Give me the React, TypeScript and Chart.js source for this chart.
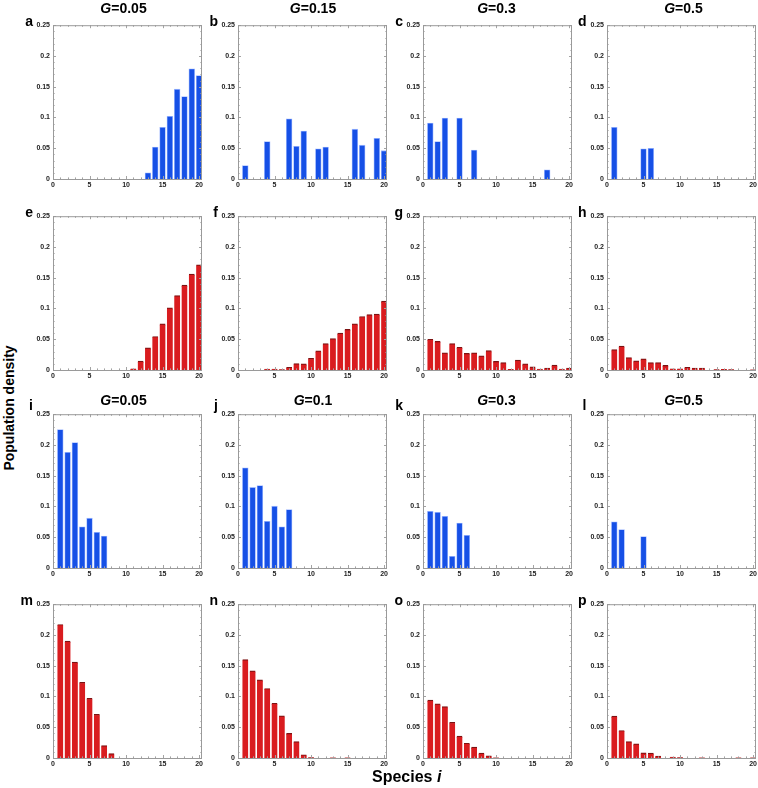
import React, { useEffect, useRef } from "react";
import { Chart, registerables } from "chart.js";

Chart.register(...registerables);

// ---------- data ----------
const speciesIndex = [1, 2, 3, 4, 5, 6, 7, 8, 9, 10, 11, 12, 13, 14, 15, 16, 17, 18, 19, 20];
const xTickLabels = [0, 5, 10, 15, 20];
const yTickValues = [0, 0.05, 0.1, 0.15, 0.2, 0.25];
const upperTitles = ["0.05", "0.15", "0.3", "0.5"];
const lowerTitles = ["0.05", "0.1", "0.3", "0.5"];
const panelLetters = ["a", "b", "c", "d", "e", "f", "g", "h", "i", "j", "k", "l", "m", "n", "o", "p"];

const densA = [0, 0, 0, 0, 0, 0, 0, 0, 0, 0, 0, 0, 0.010, 0.052, 0.084, 0.102, 0.146, 0.134, 0.179, 0.168];
const densB = [0.022, 0, 0, 0.061, 0, 0, 0.098, 0.053, 0.078, 0, 0.049, 0.052, 0, 0, 0, 0.081, 0.055, 0, 0.066, 0.046];
const densC = [0.091, 0.061, 0.099, 0, 0.099, 0, 0.047, 0, 0, 0, 0, 0, 0, 0, 0, 0, 0.015, 0, 0, 0];
const densD = [0.084, 0, 0, 0, 0.049, 0.050, 0, 0, 0, 0, 0, 0, 0, 0, 0, 0, 0, 0, 0, 0];
const densE = [0, 0, 0, 0, 0, 0, 0, 0, 0, 0, 0.002, 0.0144, 0.036, 0.0545, 0.075, 0.101, 0.121, 0.138, 0.156, 0.171];
const densF = [0, 0, 0, 0.0015, 0.0015, 0.0005, 0.0045, 0.0105, 0.010, 0.019, 0.031, 0.043, 0.051, 0.060, 0.066, 0.075, 0.087, 0.090, 0.091, 0.112];
const densG = [0.050, 0.0465, 0.028, 0.043, 0.037, 0.027, 0.028, 0.023, 0.0315, 0.014, 0.012, 0.001, 0.016, 0.010, 0.005, 0.0016, 0.003, 0.008, 0.0016, 0.003];
const densH = [0.033, 0.039, 0.020, 0.015, 0.018, 0.012, 0.012, 0.0075, 0.002, 0.002, 0.0045, 0.003, 0.003, 0, 0.0005, 0.001, 0.0005, 0, 0, 0.0003];
const densI = [0.225, 0.188, 0.204, 0.067, 0.081, 0.058, 0.052, 0, 0, 0, 0, 0, 0, 0, 0, 0, 0, 0, 0, 0];
const densJ = [0.163, 0.131, 0.134, 0.076, 0.1005, 0.067, 0.095, 0, 0, 0, 0, 0, 0, 0, 0, 0, 0, 0, 0, 0];
const densK = [0.092, 0.0905, 0.084, 0.019, 0.073, 0.053, 0, 0, 0, 0, 0, 0, 0, 0, 0, 0, 0, 0, 0, 0];
const densL = [0.075, 0.0625, 0, 0, 0.051, 0, 0, 0, 0, 0, 0, 0, 0, 0, 0, 0, 0, 0, 0, 0];
const densM = [0.217, 0.190, 0.156, 0.123, 0.097, 0.071, 0.020, 0.007, 0, 0, 0, 0, 0, 0, 0, 0, 0, 0, 0, 0];
const densN = [0.160, 0.1415, 0.127, 0.113, 0.089, 0.0686, 0.040, 0.0266, 0.0053, 0.0005, 0, 0, 0.0003, 0, 0.0003, 0, 0, 0, 0, 0];
const densO = [0.094, 0.088, 0.0835, 0.058, 0.0356, 0.024, 0.0176, 0.008, 0.0037, 0.0003, 0, 0, 0, 0, 0, 0, 0, 0, 0, 0];
const densP = [0.068, 0.0447, 0.0266, 0.023, 0.0085, 0.008, 0.003, 0, 0.0015, 0.0005, 0, 0, 0.0003, 0, 0, 0, 0, 0.0003, 0, 0.0003];

const panelSeries = [
  densA, densB, densC, densD,
  densE, densF, densG, densH,
  densI, densJ, densK, densL,
  densM, densN, densO, densP,
];

// ---------- styling / layout ----------
const FONT = '"Liberation Sans", Arial, Helvetica, sans-serif';
const BLUE = "#1650e6";
const BLUE_EDGE = "#9fb9ff";
const RED = "#d91c1f";
const RED_EDGE = "#7c1212";

const colLeft = [53, 238, 423, 607];
const rowTop = [23, 214, 412, 602];
const PLOT_W = 149;
const PLOT_H = 156;
const YW = 22;
const PT = 5;
const PR = 6;
const XH = 12;
const CW = YW + PLOT_W + PR;
const CH = PT + PLOT_H + XH;
const letterRight = [33, 218, 403, 586.5];
const titleCenter = [123.5, 313, 496.5, 683.5];

const framePlugin = {
  id: "frameTicks",
  afterDatasetsDraw(chart: any) {
    const { ctx, chartArea: a, scales } = chart;
    const x = scales.x;
    const y = scales.y;
    ctx.save();
    ctx.strokeStyle = "#a3a3a3";
    ctx.lineWidth = 1;
    ctx.beginPath();
    for (let v = 0; v <= 20; v += 1) {
      const px = Math.round(x.getPixelForValue(v)) + 0.5;
      const len = v % 5 === 0 ? 3 : 1.6;
      ctx.moveTo(px, a.bottom);
      ctx.lineTo(px, a.bottom - len);
      ctx.moveTo(px, a.top);
      ctx.lineTo(px, a.top + len);
    }
    for (let k = 0; k <= 25; k += 1) {
      const py = Math.round(y.getPixelForValue(k / 100)) + 0.5;
      const len = k % 5 === 0 ? 3 : 1.6;
      ctx.moveTo(a.left, py);
      ctx.lineTo(a.left + len, py);
      ctx.moveTo(a.right, py);
      ctx.lineTo(a.right - len, py);
    }
    ctx.stroke();
    ctx.strokeStyle = "#9a9a9a";
    ctx.strokeRect(a.left + 0.5, a.top + 0.5, a.right - a.left - 1, a.bottom - a.top);
    ctx.restore();
  },
};

function Panel({ idx }: { idx: number }) {
  const ref = useRef<HTMLCanvasElement>(null);
  const row = Math.floor(idx / 4);
  const col = idx % 4;
  useEffect(() => {
    const values = panelSeries[idx];
    const isRed = row % 2 === 1;
    const tickFont = { family: FONT, size: 7, weight: "bold" as const };
    const chart = new Chart(ref.current as HTMLCanvasElement, {
      type: "bar",
      data: {
        datasets: [
          {
            data: speciesIndex.map((s, k) => ({ x: s, y: values[k] > 0 ? values[k] : null })) as any,
            backgroundColor: isRed ? RED : BLUE,
            borderColor: isRed ? RED_EDGE : BLUE_EDGE,
            borderWidth: isRed
              ? { top: 1.2, left: 0, right: 0, bottom: 0 }
              : { top: 0.8, left: 0.8, right: 0.8, bottom: 0 },
            borderSkipped: "start",
            barThickness: 5.8,
          },
        ],
      },
      options: {
        animation: false,
        responsive: false,
        maintainAspectRatio: false,
        devicePixelRatio: 1,
        layout: { padding: { left: 0, top: PT, right: PR, bottom: 0 } },
        plugins: {
          legend: { display: false },
          tooltip: { enabled: false },
          title: { display: false },
        },
        scales: {
          x: {
            type: "linear",
            min: 0,
            max: 20.4,
            offset: false,
            grid: { display: false, drawTicks: false, offset: false },
            border: { display: false },
            ticks: {
              font: tickFont,
              color: "#222",
              padding: 2,
              maxRotation: 0,
              autoSkip: false,
              callback: (v: any) => String(v),
            },
            afterBuildTicks: (s: any) => {
              s.ticks = xTickLabels.map((v) => ({ value: v }));
            },
            afterFit: (s: any) => {
              s.height = XH;
            },
          },
          y: {
            type: "linear",
            min: 0,
            max: 0.25,
            grid: { display: false, drawTicks: false },
            border: { display: false },
            ticks: {
              font: tickFont,
              color: "#222",
              padding: 3,
              callback: (v: any) => String(+(+v).toFixed(2)),
            },
            afterBuildTicks: (s: any) => {
              s.ticks = yTickValues.map((v) => ({ value: v }));
            },
            afterFit: (s: any) => {
              s.width = YW;
            },
          },
        },
      } as any,
      plugins: [framePlugin],
    });
    return () => chart.destroy();
  }, [idx, row]);
  return (
    <canvas
      ref={ref}
      width={CW}
      height={CH}
      style={{
        position: "absolute",
        left: colLeft[col] - YW,
        top: rowTop[row] - PT,
        width: CW,
        height: CH,
        display: "block",
      }}
    />
  );
}

export default function App() {
  const panels = panelSeries.map((_, i) => i);
  return (
    <div
      style={{
        position: "absolute",
        left: 0,
        top: 0,
        width: 758,
        height: 788,
        overflow: "hidden",
        background: "#fff",
        fontFamily: FONT,
        color: "#000",
      }}
    >
      {panels.map((i) => (
        <Panel key={i} idx={i} />
      ))}
      {panels.map((i) => {
        const row = Math.floor(i / 4);
        const col = i % 4;
        const baseline = rowTop[row] + (row === 2 ? -2 : 2.5);
        return (
          <div
            key={"l" + i}
            style={{
              position: "absolute",
              left: letterRight[col],
              top: baseline - 12,
              transform: "translateX(-100%)",
              fontSize: 14,
              lineHeight: "14px",
              fontWeight: "bold",
              whiteSpace: "nowrap",
            }}
          >
            {panelLetters[i]}
          </div>
        );
      })}
      {[0, 2].map((row) =>
        (row === 0 ? upperTitles : lowerTitles).map((t, col) => (
          <div
            key={"t" + row + col}
            style={{
              position: "absolute",
              left: titleCenter[col],
              top: row === 0 ? 1 : 393,
              transform: "translateX(-50%)",
              fontSize: 14,
              lineHeight: "14px",
              fontWeight: "bold",
              whiteSpace: "nowrap",
            }}
          >
            <i>G</i>={t}
          </div>
        ))
      )}
      <div
        style={{
          position: "absolute",
          left: 9,
          top: 408,
          transform: "translate(-50%, -50%) rotate(-90deg)",
          fontSize: 14,
          lineHeight: "14px",
          fontWeight: "bold",
          whiteSpace: "nowrap",
        }}
      >
        Population density
      </div>
      <div
        style={{
          position: "absolute",
          left: 372,
          top: 769,
          fontSize: 16,
          lineHeight: "16px",
          fontWeight: "bold",
          whiteSpace: "nowrap",
        }}
      >
        Species <i>i</i>
      </div>
    </div>
  );
}
